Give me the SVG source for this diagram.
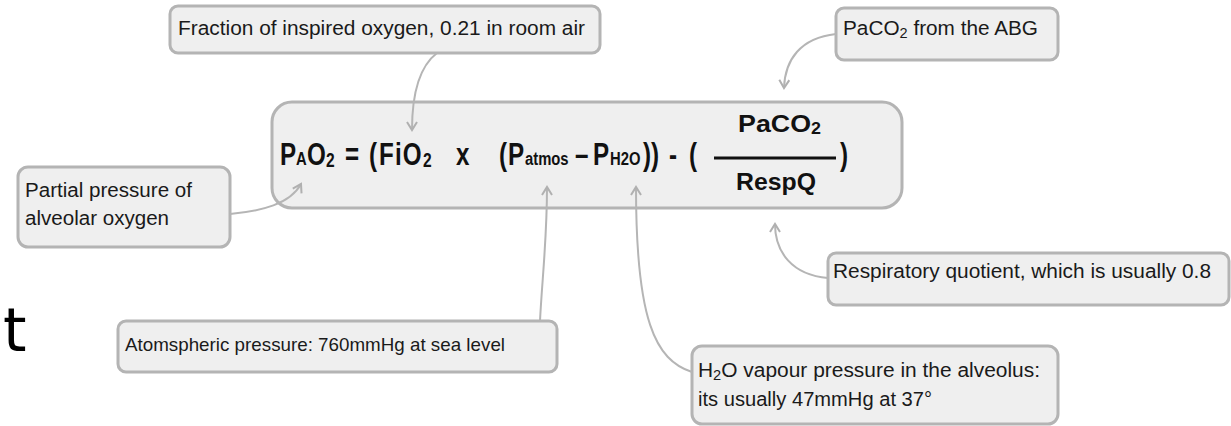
<svg xmlns="http://www.w3.org/2000/svg" width="1231" height="426" viewBox="0 0 1231 426">
<style>
.box{fill:#efefef;stroke:#b4b4b4;stroke-width:3}
.lbl{font-family:"Liberation Sans",Arial,sans-serif;fill:#1a1a1a}
.f{font-family:"Liberation Sans",Arial,sans-serif;font-weight:bold;fill:#111}
.c{fill:none;stroke:#b5b5b5;stroke-width:2}
.sb{font-size:19px}
.s2{font-size:20px}
</style>
<defs>
<marker id="ah" viewBox="-10 -6 12 12" refX="0" refY="0" markerWidth="12" markerHeight="12" markerUnits="userSpaceOnUse" orient="auto">
<path d="M-8,-5 L0,0 L-8,5" fill="none" stroke="#b0b0b0" stroke-width="2"/>
</marker>
</defs>
<rect width="1231" height="426" fill="#ffffff"/>

<g id="node-formula">
<rect class="box" x="272" y="102" width="630" height="106" rx="20"/>
<text class="f" font-size="31" transform="translate(280,165) scale(0.78,1)"><tspan x="0" y="0">P</tspan><tspan class="sb" x="20.5" y="0">A</tspan><tspan x="34.6" y="0">O</tspan><tspan class="s2" x="59" y="2">2</tspan><tspan x="83.3" y="0">=</tspan><tspan x="114.1" y="0">(</tspan><tspan x="126.9" y="0" letter-spacing="1.5">FiO</tspan><tspan class="s2" x="183.3" y="2">2</tspan><tspan x="225.6" y="0">x</tspan><tspan x="280.8" y="0">(</tspan><tspan x="292.3" y="0">P</tspan><tspan class="sb" x="314.1" y="0">atmos</tspan><tspan x="378.2" y="0">–</tspan><tspan x="401.3" y="0">P</tspan><tspan class="sb" x="423.1" y="0">H2O</tspan><tspan x="465.4" y="0">))</tspan><tspan x="498.7" y="0">-</tspan><tspan x="524.4" y="0">(</tspan><tspan x="717.9" y="0">)</tspan></text>
<text class="f" font-size="24" x="738" y="132" textLength="83" lengthAdjust="spacingAndGlyphs">PaCO<tspan font-size="16" dy="2">2</tspan></text>
<line x1="714" y1="158" x2="836" y2="158" stroke="#111" stroke-width="3"/>
<text class="f" x="736" y="190" font-size="24" textLength="80" lengthAdjust="spacingAndGlyphs">RespQ</text>
</g>

<g id="node-fio2">
<rect class="box" x="170" y="6" width="430" height="47" rx="8"/>
<text class="lbl" x="178" y="35" font-size="20" textLength="407" lengthAdjust="spacingAndGlyphs">Fraction of inspired oxygen, 0.21 in room air</text>
</g>

<g id="node-paco2">
<rect class="box" x="836" y="8" width="222" height="52" rx="8"/>
<text class="lbl" x="843" y="35" font-size="20" textLength="195" lengthAdjust="spacingAndGlyphs">PaCO<tspan font-size="14" dy="3">2</tspan><tspan dy="-3"> from the ABG</tspan></text>
</g>

<g id="node-pao2">
<rect class="box" x="18" y="167" width="212" height="80" rx="10"/>
<text class="lbl" x="25" y="197" font-size="20" textLength="167" lengthAdjust="spacingAndGlyphs">Partial pressure of</text>
<text class="lbl" x="25" y="225" font-size="20" textLength="144" lengthAdjust="spacingAndGlyphs">alveolar oxygen</text>
</g>

<g id="node-respq">
<rect class="box" x="828" y="253" width="401" height="52" rx="8"/>
<text class="lbl" x="833" y="278" font-size="20" textLength="378" lengthAdjust="spacingAndGlyphs">Respiratory quotient, which is usually 0.8</text>
</g>

<g id="node-patm">
<rect class="box" x="118" y="321" width="439" height="51" rx="8"/>
<text class="lbl" x="125" y="351" font-size="19" textLength="380" lengthAdjust="spacingAndGlyphs">Atomspheric pressure: 760mmHg at sea level</text>
</g>

<g id="node-ph2o">
<rect class="box" x="692" y="346" width="366" height="78" rx="10"/>
<text class="lbl" x="698" y="377" font-size="20" textLength="342" lengthAdjust="spacingAndGlyphs">H<tspan font-size="14" dy="3">2</tspan><tspan dy="-3">O vapour pressure in the alveolus:</tspan></text>
<text class="lbl" x="698" y="406" font-size="20" textLength="234" lengthAdjust="spacingAndGlyphs">its usually 47mmHg at 37°</text>
</g>

<g id="connectors">
<path class="c" d="M437,53 C420,66 412,92 412,130" marker-end="url(#ah)"/>
<path class="c" d="M230,214 C262,211 290,204 301,184" marker-end="url(#ah)"/>
<path class="c" d="M540,321 C542,280 547,240 547,187" marker-end="url(#ah)"/>
<path class="c" d="M692,372 C655,360 636,320 636,187" marker-end="url(#ah)"/>
<path class="c" d="M828,278 C792,275 775,252 775,224" marker-end="url(#ah)"/>
<path class="c" d="M836,34 C800,38 785,60 784,88" marker-end="url(#ah)"/>
</g>

<text x="3" y="351" font-family="DejaVu Sans,sans-serif" font-size="60" fill="#000">t</text>
</svg>
